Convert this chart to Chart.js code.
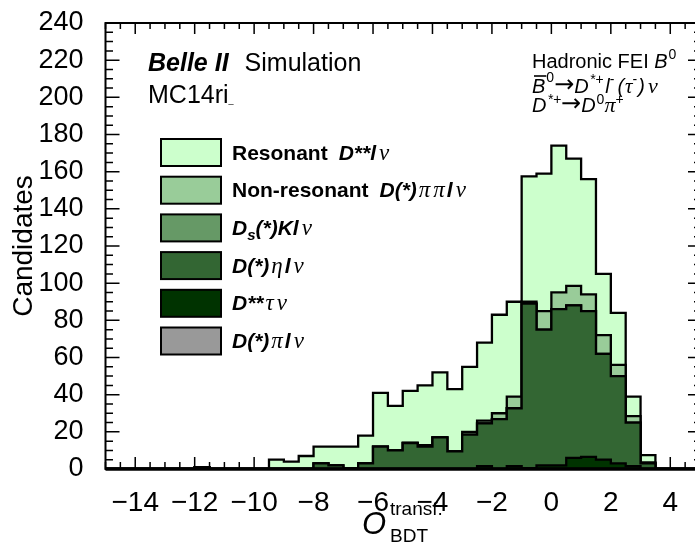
<!DOCTYPE html>
<html><head><meta charset="utf-8">
<script src="https://cdn.jsdelivr.net/npm/chart.js@4.4.1/dist/chart.umd.min.js"></script>
<style>html,body{margin:0;padding:0;overflow:hidden;background:#fff}</style>
</head><body>
<canvas id="c" width="700" height="543" style="display:block;width:700px;height:543px"></canvas>
<script>
// ---- data (bin lower edges, width 0.5) ----
const binEdges = [-15,-14.5,-14,-13.5,-13,-12.5,-12,-11.5,-11,-10.5,-10,-9.5,-9,-8.5,-8,-7.5,-7,-6.5,-6,-5.5,-5,-4.5,-4,-3.5,-3,-2.5,-2,-1.5,-1,-0.5,0,0.5,1,1.5,2,2.5,3,3.5,4,4.5];
const xUpper = 5;
const resonant    = [0,0,0,0,0,0,0,0,0,0, 0,5,4,7,9,10,11.5,15,29,24, 28,32.2,35,33.5,35,42,53,51,67.5,74, 79,68.5,62,33,28,10.5,3.9,0,0,0];
const nonResonant = [0,0,0,0,0,0,0,0,0,0, 0,0,0,0,0,0,0,0,0,0, 0,0.8,0,0,1.5,1.5,3.2,6.3,1,10, 9,10.5,9,10,6,3.5,0.6,0,0,0];
const dsK         = [0,0,0,0,0,0,0,0,0,0, 0,0,0,0,0,0,0,0,0,0, 0,0,0,0,0,0,0,0,0,0, 0,0,0,0,0,0,0,0,0,0];
const dEta        = [0,0,0,0,0,0,1,0,0,0, 0,0,0,0,3,2,0.5,3,12,10, 14,12,17,9.5,18.5,23,26.8,31.2,88.5,73, 84,82,78.5,57,47,23.5,3,0,0,0];
const dssTau      = [0,0,0,0,0,0,0,0,0,0, 0,0,0,0,0,0,0,0,0,0, 0,0,0,0,0,1.5,0,1.5,0.5,2, 2,6,6.5,5,3,1.5,0,0,0,0];
const dPi         = [0,0,0,0,0,0,0,0,0,0, 0,0,0,0,0,0,0,0,0,0, 0,0,0,0,0,0,0,0,0,0, 0,0,0,0,0,0,0,0,0,0];
const xTickValues = [-14,-12,-10,-8,-6,-4,-2,0,2,4];
const yTickValues = [0,20,40,60,80,100,120,140,160,180,200,220,240];

// ---- styles ----
const FONT = "'Liberation Sans', Arial, Helvetica, sans-serif";
const SERIF = "'Liberation Serif', 'Times New Roman', serif";
const ARROW = "'DejaVu Sans', sans-serif";
const R = s => `${s}px ${FONT}`;
const B = s => `bold ${s}px ${FONT}`;
const I = s => `italic ${s}px ${FONT}`;
const BI = s => `italic bold ${s}px ${FONT}`;
const GI = s => `italic ${s}px ${SERIF}`;
const AR = s => `${s}px ${ARROW}`;

// stack from bottom to top
const components = [
  {key:'pi',  data:dPi,         color:'#999999'},
  {key:'tau', data:dssTau,      color:'#003300'},
  {key:'eta', data:dEta,        color:'#336633'},
  {key:'dsk', data:dsK,         color:'#669966'},
  {key:'non', data:nonResonant, color:'#99cc99'},
  {key:'res', data:resonant,    color:'#ccffcc'}
];
const running = binEdges.map(() => 0);
const datasets = components.map((c, k) => {
  c.data.forEach((v, i) => running[i] += v);
  const pts = binEdges.map((x, i) => ({x, y: running[i]}));
  pts.push({x: xUpper, y: running[running.length - 1]});
  return {
    label: c.key, data: pts, stepped: 'before', fill: 'origin',
    backgroundColor: c.color, borderColor: '#000', borderWidth: 2.3,
    pointRadius: 0, tension: 0, order: k + 1
  };
});

const legendRows = [
  {key:'res', parts:[{t:'Resonant',f:B(21)},{gap:11},{t:'D**l',f:BI(21)},{gap:3},{t:'ν',f:GI(23)}]},
  {key:'non', parts:[{t:'Non-resonant',f:B(21)},{gap:11},{t:'D(*)',f:BI(21)},{gap:2},{t:'π',f:GI(23)},{gap:3},{t:'π',f:GI(23)},{gap:2},{t:'l',f:BI(21)},{gap:3},{t:'ν',f:GI(23)}]},
  {key:'dsk', parts:[{t:'D',f:BI(21)},{t:'s',f:BI(15),dy:5},{t:'(*)Kl',f:BI(21)},{gap:3},{t:'ν',f:GI(23)}]},
  {key:'eta', parts:[{t:'D(*)',f:BI(21)},{gap:2},{t:'η',f:GI(23)},{gap:2},{t:'l',f:BI(21)},{gap:3},{t:'ν',f:GI(23)}]},
  {key:'tau', parts:[{t:'D**',f:BI(21)},{gap:2},{t:'τ',f:GI(23)},{gap:3},{t:'ν',f:GI(23)}]},
  {key:'pi',  parts:[{t:'D(*)',f:BI(21)},{gap:2},{t:'π',f:GI(23)},{gap:2},{t:'l',f:BI(21)},{gap:3},{t:'ν',f:GI(23)}]}
];

function rich(ctx, x, y, parts) {
  let cx = x;
  ctx.textBaseline = 'alphabetic';
  ctx.textAlign = 'left';
  for (const p of parts) {
    if (p.gap) { cx += p.gap; continue; }
    ctx.font = p.f;
    ctx.fillText(p.t, cx, y + (p.dy || 0));
    const w = ctx.measureText(p.t).width;
    if (p.over) {
      ctx.save(); ctx.lineWidth = 1.6; ctx.beginPath();
      ctx.moveTo(cx + 2, y - 17); ctx.lineTo(cx + w + 1, y - 17); ctx.stroke(); ctx.restore();
    }
    cx += w;
  }
  return cx;
}

const framePlugin = {
  id: 'rootFrame',
  beforeDatasetsDraw(chart) {
    const {ctx, chartArea: a, scales: {x, y}} = chart;
    ctx.save();
    ctx.strokeStyle = '#000';
    ctx.lineWidth = 1.5;
    ctx.beginPath();
    for (let v = x.min; v <= x.max + 1e-9; v += 0.5) {
      const px = x.getPixelForValue(v);
      const major = Math.abs(v % 2) < 1e-9;
      ctx.moveTo(px, a.bottom); ctx.lineTo(px, a.bottom - (major ? 12 : 7));
      ctx.moveTo(px, a.top); ctx.lineTo(px, a.top + (major ? 11 : 6));
    }
    for (let v = y.min; v <= y.max + 1e-9; v += 5) {
      const py = y.getPixelForValue(v);
      const major = Math.abs(v % 20) < 1e-9;
      ctx.moveTo(a.left, py); ctx.lineTo(a.left + (major ? 14 : 7.5), py);
      ctx.moveTo(a.right, py); ctx.lineTo(a.right - (major ? 12 : 6), py);
    }
    ctx.stroke();
    ctx.lineWidth = 2;
    ctx.strokeRect(a.left, a.top, a.right - a.left, a.bottom - a.top);
    ctx.restore();
  },
  afterDatasetsDraw(chart) {
    const {ctx, chartArea: a} = chart;
    ctx.save();
    ctx.strokeStyle = '#000';
    ctx.lineWidth = 3.5;
    ctx.beginPath(); ctx.moveTo(a.left, a.bottom); ctx.lineTo(a.right, a.bottom); ctx.stroke();
    ctx.fillStyle = '#000';
    legendRows.forEach((row, k) => {
      const comp = components.find(c => c.key === row.key);
      const top = 139 + k * 37.7;
      ctx.fillStyle = comp.color;
      ctx.fillRect(161, top, 60, 27);
      ctx.lineWidth = 2; ctx.strokeStyle = '#000';
      ctx.strokeRect(161, top, 60, 27);
      ctx.fillStyle = '#000';
      rich(ctx, 232, top + 20.5, row.parts);
    });
    rich(ctx, 148, 71, [{t:'Belle II',f:BI(25)},{gap:16},{t:'Simulation',f:R(25)}]);
    rich(ctx, 148, 103, [{t:'MC14ri',f:R(25)},{t:'_',f:R(9)}]);
    rich(ctx, 532, 68, [{t:'Hadronic FEI ',f:R(20)},{t:'B',f:I(20)},{gap:1},{t:'0',f:R(14),dy:-9}]);
    rich(ctx, 532, 93, [{t:'B',f:I(20),over:true},{gap:1},{t:'0',f:R(14),dy:-11},{t:'→',f:AR(24),dy:-1},{t:'D',f:I(20)},{gap:1},{t:'*+',f:I(14),dy:-9},{gap:2},{t:'l',f:I(20)},{t:'-',f:R(14),dy:-9},{gap:3},{t:'(',f:I(20)},{gap:1},{t:'τ',f:GI(21)},{t:'-',f:R(14),dy:-9},{gap:1},{t:')',f:I(20)},{gap:3},{t:'ν',f:GI(22)}]);
    rich(ctx, 532, 112, [{t:'D',f:I(20)},{gap:1},{t:'*+',f:I(14),dy:-8},{t:'→',f:AR(24),dy:-1},{t:'D',f:I(20)},{gap:1},{t:'0',f:R(14),dy:-8},{t:'π',f:GI(22)},{t:'+',f:R(14),dy:-8}]);
    rich(ctx, 362, 534, [{t:'O',f:I(31)}]);
    rich(ctx, 390, 515, [{t:'transf.',f:R(19)}]);
    rich(ctx, 390, 542, [{t:'BDT',f:R(19)}]);
    ctx.restore();
  }
};

const fmt = v => v < 0 ? '\u2212' + Math.abs(v) : String(v);

new Chart(document.getElementById('c'), {
  type: 'line',
  data: {datasets},
  options: {
    responsive: false,
    animation: false,
    events: [],
    layout: {padding: {top: 23, right: 0, left: 0, bottom: 0}},
    plugins: {legend: {display: false}, tooltip: {enabled: false}},
    scales: {
      x: {
        type: 'linear', min: -15, max: xUpper,
        grid: {display: false}, border: {display: false},
        afterBuildTicks: s => { s.ticks = xTickValues.map(value => ({value})); },
        afterFit: s => { s.height = 74; s.paddingLeft = 0; s.paddingRight = 0; },
        ticks: {color: '#000', padding: 9, maxRotation: 0, autoSkip: false, font: {family: FONT, size: 28}, callback: fmt}
      },
      y: {
        type: 'linear', min: 0, max: 240,
        grid: {display: false}, border: {display: false},
        afterBuildTicks: s => { s.ticks = yTickValues.map(value => ({value})); },
        afterFit: s => { s.width = 105.5; s.paddingTop = 0; s.paddingBottom = 0; },
        ticks: {color: '#000', padding: 14, autoSkip: false, font: {family: FONT, size: 27}},
        title: {display: true, text: 'Candidates', color: '#000', font: {family: FONT, size: 28}, padding: {top: 7, bottom: 0}}
      }
    }
  },
  plugins: [framePlugin]
});
</script>
</body></html>
